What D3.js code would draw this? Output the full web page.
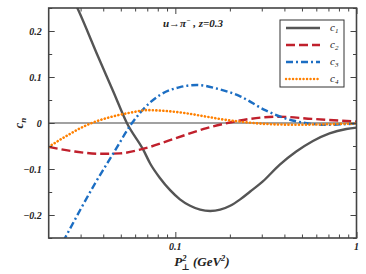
<!DOCTYPE html>
<html>
<head>
<meta charset="utf-8">
<script src="https://cdn.jsdelivr.net/npm/d3@7"></script>
<style>
  body { margin: 0; background: #fff; }
</style>
</head>
<body>
<script>
// P_perp^2 values (GeV^2) for each curve
const c1P = [0.02, 0.025, 0.0288, 0.0376, 0.0455, 0.054, 0.0667, 0.0726, 0.0824, 0.0936, 0.106, 0.1207, 0.1371, 0.1557, 0.1768, 0.2008, 0.228, 0.259, 0.304, 0.376, 0.465, 0.575, 0.710, 0.879, 1.0];
const c1V = [0.385, 0.30, 0.25, 0.143, 0.068, 0.0, -0.059, -0.088, -0.120, -0.146, -0.166, -0.180, -0.1885, -0.1913, -0.1885, -0.180, -0.166, -0.149, -0.127, -0.091, -0.062, -0.039, -0.0224, -0.013, -0.010];

const c2P = [0.02, 0.0279, 0.0383, 0.0495, 0.0638, 0.0973, 0.149, 0.200, 0.259, 0.37, 0.567, 1.0];
const c2V = [-0.052, -0.062, -0.067, -0.066, -0.058, -0.035, -0.011, 0.001, 0.009, 0.0137, 0.009, 0.003];

const c3P = [0.02, 0.0246, 0.0361, 0.0455, 0.0577, 0.0638, 0.0824, 0.106, 0.1315, 0.169, 0.228, 0.313, 0.404, 0.521, 0.673, 1.0];
const c3V = [-0.315, -0.25, -0.131, -0.066, 0.0, 0.022, 0.061, 0.078, 0.0826, 0.075, 0.058, 0.028, 0.010, 0.0, -0.004, -0.001];

const c4P = [0.02, 0.0246, 0.0317, 0.0346, 0.0446, 0.0575, 0.0698, 0.0824, 0.111, 0.149, 0.192, 0.228, 0.313, 0.459, 1.0];
const c4V = [-0.052, -0.030, -0.0065, 0.0, 0.0137, 0.023, 0.028, 0.027, 0.022, 0.0137, 0.0065, 0.003, -0.002, -0.0037, -0.001];

// tick values
const xMajor = [0.1, 1];
const xMinor = [0.03, 0.04, 0.05, 0.06, 0.07, 0.08, 0.09, 0.2, 0.3, 0.4, 0.5, 0.6, 0.7, 0.8, 0.9];
const yMajor = [-0.2, -0.1, 0, 0.1, 0.2];
const yMinor = [-0.25, -0.15, -0.05, 0.05, 0.15, 0.25];

const legendNames = ['c1', 'c2', 'c3', 'c4'];

const width = 366, height = 274;
const mLeft = 48.7, mRight = 356.5, mTop = 8, mBottom = 238;
const serif = '"Liberation Serif", "Times New Roman", "DejaVu Serif", serif';

const svg = d3.select('body').append('svg')
    .attr('width', width)
    .attr('height', height)
    .attr('font-family', serif)
    .attr('font-weight', 'bold')
    .attr('font-style', 'italic');

const x = d3.scaleLog().domain([0.02, 1]).range([mLeft, mRight]);
const y = d3.scaleLinear().domain([-0.25, 0.25]).range([mBottom, mTop]);

// clip for the curves
svg.append('clipPath').attr('id', 'plot-clip')
    .append('rect')
    .attr('x', mLeft).attr('y', mTop)
    .attr('width', mRight - mLeft).attr('height', mBottom - mTop);

// zero line
svg.append('line')
    .attr('x1', mLeft).attr('x2', mRight)
    .attr('y1', y(0)).attr('y2', y(0))
    .attr('stroke', '#444').attr('stroke-width', 1.2);

const series = [
    { name: 'c1', P: c1P, V: c1V, color: '#555555', dash: null, cap: 'butt' },
    { name: 'c2', P: c2P, V: c2V, color: '#c0202c', dash: '9,4', cap: 'butt' },
    { name: 'c3', P: c3P, V: c3V, color: '#1c6ec3', dash: '7,3,2,3', cap: 'butt' },
    { name: 'c4', P: c4P, V: c4V, color: '#ff8000', dash: '0.1,3.4', cap: 'round' }
];

const line = d3.line()
    .x(d => x(d[0]))
    .y(d => y(d[1]))
    .curve(d3.curveMonotoneX);

const curves = svg.append('g').attr('clip-path', 'url(#plot-clip)');
series.forEach(s => {
    curves.append('path')
        .datum(s.P.map((p, i) => [p, s.V[i]]))
        .attr('fill', 'none')
        .attr('stroke', s.color)
        .attr('stroke-width', s.name === 'c4' ? 2.6 : 2.4)
        .attr('stroke-linecap', s.cap)
        .attr('stroke-dasharray', s.dash)
        .attr('d', line);
});

// axes - ticks pointing inward on all four sides
function tickAxis(axisFn, scale, vals, len, transform) {
    const g = svg.append('g')
        .attr('transform', transform)
        .call(axisFn(scale).tickValues(vals).tickSize(len).tickFormat(''));
    g.select('.domain').remove();
    g.selectAll('line').attr('stroke', '#444').attr('stroke-width', 1);
}
tickAxis(d3.axisBottom, x, xMajor, -6, `translate(0,${mBottom})`);
tickAxis(d3.axisBottom, x, xMinor, -3.5, `translate(0,${mBottom})`);
tickAxis(d3.axisTop, x, xMajor, -6, `translate(0,${mTop})`);
tickAxis(d3.axisTop, x, xMinor, -3.5, `translate(0,${mTop})`);
tickAxis(d3.axisLeft, y, yMajor, -6, `translate(${mLeft},0)`);
tickAxis(d3.axisLeft, y, yMinor, -3.5, `translate(${mLeft},0)`);
tickAxis(d3.axisRight, y, yMajor, -6, `translate(${mRight},0)`);
tickAxis(d3.axisRight, y, yMinor, -3.5, `translate(${mRight},0)`);

// frame
svg.append('rect')
    .attr('x', mLeft).attr('y', mTop)
    .attr('width', mRight - mLeft).attr('height', mBottom - mTop)
    .attr('fill', 'none').attr('stroke', '#444').attr('stroke-width', 1.6);

// tick labels
svg.selectAll('.ylab').data(yMajor).enter().append('text')
    .attr('x', mLeft - 7).attr('y', d => y(d) + 3.5)
    .attr('text-anchor', 'end').attr('font-size', 10).attr('fill', '#222')
    .text(d => d === 0 ? '0' : (d < 0 ? '\u2212' + Math.abs(d) : d));

svg.selectAll('.xlab').data(xMajor).enter().append('text')
    .attr('x', d => x(d)).attr('y', mBottom + 12)
    .attr('text-anchor', 'middle').attr('font-size', 10).attr('fill', '#222')
    .text(d => d);

// axis titles
svg.append('text')
    .attr('transform', `translate(23,${y(0)}) rotate(-90)`)
    .attr('text-anchor', 'middle').attr('font-size', 13).attr('fill', '#222')
    .html('c<tspan font-size="9" dy="3">n</tspan>');

const xt = svg.append('text')
    .attr('x', 202).attr('y', 266)
    .attr('text-anchor', 'middle').attr('font-size', 13).attr('fill', '#222');
xt.append('tspan').text('P');
xt.append('tspan').attr('font-size', 8.5).attr('dy', -5).text('2');
xt.append('tspan').attr('font-size', 8.5).attr('dx', -5).attr('dy', 9).text('\u22a5');
xt.append('tspan').attr('dy', -4).text(' (GeV');
xt.append('tspan').attr('font-size', 8.5).attr('dy', -5).text('2');
xt.append('tspan').attr('dy', 5).text(')');

// title
const tt = svg.append('text')
    .attr('x', 163).attr('y', 27).attr('font-size', 11).attr('fill', '#222');
tt.append('tspan').text('u\u2192\u03c0');
tt.append('tspan').attr('font-size', 7).attr('dy', -4).text('\u2212');
tt.append('tspan').attr('dy', 4).text(' , z=0.3');

// legend
const lg = svg.append('g');
lg.append('rect')
    .attr('x', 280).attr('y', 20).attr('width', 64).attr('height', 67)
    .attr('fill', '#fff').attr('stroke', '#333').attr('stroke-width', 1);
series.forEach((s, i) => {
    const ly = 28 + i * 17;
    lg.append('line')
        .attr('x1', 286).attr('x2', 320).attr('y1', ly).attr('y2', ly)
        .attr('stroke', s.color).attr('stroke-width', 2.4)
        .attr('stroke-linecap', s.cap)
        .attr('stroke-dasharray', s.dash);
    const t = lg.append('text')
        .attr('x', 330).attr('y', ly + 3).attr('font-size', 11).attr('fill', '#222')
        .attr('font-weight', 'normal');
    t.append('tspan').text('c');
    t.append('tspan').attr('font-size', 7).attr('dy', 2).text(legendNames[i].slice(1));
});
</script>
</body>
</html>
